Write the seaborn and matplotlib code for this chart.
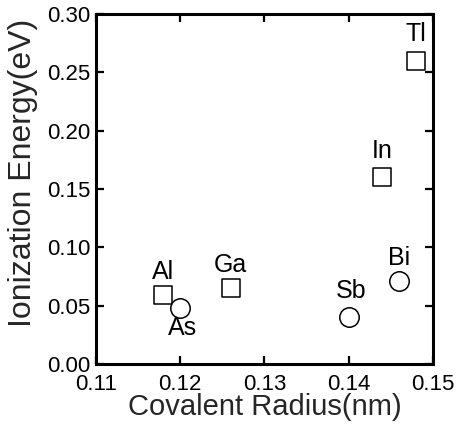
import numpy as np
import pandas as pd
import matplotlib
matplotlib.use('Agg')
import matplotlib.pyplot as plt
import seaborn as sns

# group III acceptors (squares) and group V donors (circles)
acc_names = ['Al', 'Ga', 'In', 'Tl']
acc_radius = [0.118, 0.126, 0.144, 0.148]
acc_energy = [0.059, 0.065, 0.160, 0.260]

don_names = ['As', 'Sb', 'Bi']
don_radius = [0.120, 0.140, 0.146]
don_energy = [0.048, 0.040, 0.071]

xticks = [0.11, 0.12, 0.13, 0.14, 0.15]
yticks = [0.00, 0.05, 0.10, 0.15, 0.20, 0.25, 0.30]

# label offsets in points (x, y) relative to the marker
offsets = {'Al': (0, 17), 'Ga': (0, 17), 'In': (0, 19), 'Tl': (0, 19),
           'As': (1.5, -14), 'Sb': (2, 19), 'Bi': (0, 17)}

df_acc = pd.DataFrame({'name': acc_names, 'radius': acc_radius, 'energy': acc_energy})
df_don = pd.DataFrame({'name': don_names, 'radius': don_radius, 'energy': don_energy})

sns.set_style('ticks')
plt.rcParams['font.family'] = ['Liberation Sans', 'DejaVu Sans']

fig = plt.figure(figsize=(4.59, 4.34), dpi=100)
ax = fig.add_axes([0.209, 0.161, 0.734, 0.807])

sns.scatterplot(data=df_acc, x='radius', y='energy', marker='s', s=12.5**2,
                facecolor='white', edgecolor='black', linewidth=1.1, ax=ax, zorder=3)
sns.scatterplot(data=df_don, x='radius', y='energy', marker='o', s=14**2,
                facecolor='white', edgecolor='black', linewidth=1.1, ax=ax, zorder=3)

for d in (df_acc, df_don):
    for _, r in d.iterrows():
        dx, dy = offsets[r['name']]
        ax.annotate(r['name'], (r['radius'], r['energy']), xytext=(dx, dy),
                    textcoords='offset points', ha='center', va='center',
                    fontsize=18, color='black', zorder=4)

ax.set_xlim(0.11, 0.15)
ax.set_ylim(0.0, 0.30)
ax.set_xticks(xticks)
ax.set_yticks(yticks)
ax.set_xticklabels([f'{v:.2f}' for v in xticks])
ax.set_yticklabels([f'{v:.2f}' for v in yticks])
ax.tick_params(direction='in', length=6, width=1.6, top=True, right=True,
               labelsize=16, color='black', labelcolor='black')
ax.tick_params(axis='x', pad=7)
ax.tick_params(axis='y', pad=4)
for sp in ax.spines.values():
    sp.set_linewidth(2.2)
    sp.set_color('black')

ax.set_xlabel('Covalent Radius(nm)', fontsize=21, labelpad=-1)
ax.set_ylabel('Ionization Energy(eV)', fontsize=23)
ax.yaxis.set_label_coords(-0.172, 0.546)

fig.savefig('out.png', dpi=100)
